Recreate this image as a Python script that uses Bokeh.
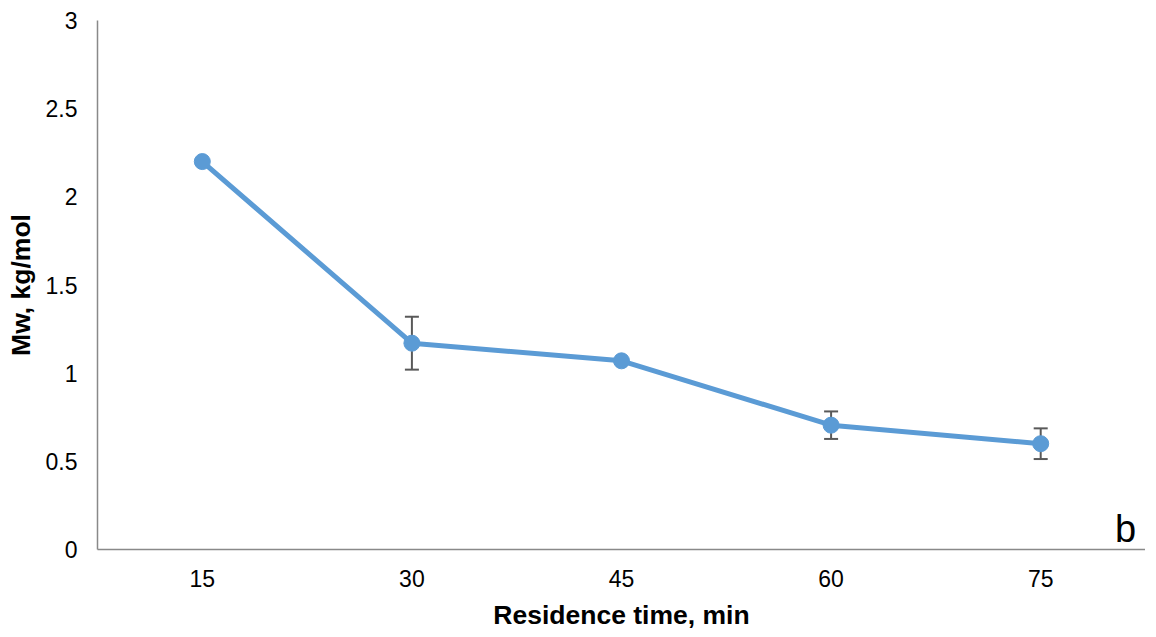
from bokeh.plotting import figure
from bokeh.models import (ColumnDataSource, FactorRange, Range1d, FixedTicker,
                          CustomJSTickFormatter, Whisker, TeeHead, Label)
from bokeh.embed import file_html
from bokeh.resources import INLINE

# ---- data ----
residence_time = ["15", "30", "45", "60", "75"]
mw = [2.20, 1.17, 1.07, 0.705, 0.60]
mw_err = [0.0, 0.15, 0.0, 0.078, 0.087]
y_ticks = [0, 0.5, 1, 1.5, 2, 2.5, 3]
x_title = "Residence time, min"
y_title = "Mw, kg/mol"
panel_tag = "b"

BLUE = "#5B9BD5"
AXIS = "#898989"
FONT = "Liberation Sans"

p = figure(width=1145, height=632, output_backend="svg", toolbar_location=None,
           x_range=FactorRange(factors=residence_time, range_padding=0),
           y_range=Range1d(0, 3),
           min_border_left=97, min_border_right=0, min_border_top=20, min_border_bottom=82)
p.outline_line_color = None
p.xgrid.grid_line_color = None
p.ygrid.grid_line_color = None
p.background_fill_color = "white"
p.border_fill_color = "white"

# axes
for ax in (p.xaxis[0], p.yaxis[0]):
    ax.axis_line_color = AXIS
    ax.axis_line_width = 1.5
    ax.major_tick_line_color = None
    ax.minor_tick_line_color = None
    ax.major_tick_out = 0
    ax.major_tick_in = 0
    ax.major_label_text_font = FONT
    ax.major_label_text_font_size = "23px"
    ax.major_label_text_color = "#000000"
    ax.axis_label_text_font = FONT
    ax.axis_label_text_font_size = "26.5px"
    ax.axis_label_text_font_style = "bold"
    ax.axis_label_text_color = "#000000"

p.xaxis.axis_label = x_title
p.yaxis.axis_label = y_title
p.xaxis.major_label_standoff = 20
p.xaxis.axis_label_standoff = 10
p.yaxis.major_label_standoff = 20
p.yaxis.axis_label_standoff = 7
p.yaxis.ticker = FixedTicker(ticks=y_ticks)
p.yaxis.formatter = CustomJSTickFormatter(code="return String(Math.round(tick*10)/10);")

# error bars (only where an error is given)
idx = [i for i, e in enumerate(mw_err) if e > 0]
err_src = ColumnDataSource(dict(
    x=[residence_time[i] for i in idx],
    upper=[mw[i] + mw_err[i] for i in idx],
    lower=[mw[i] - mw_err[i] for i in idx],
))
w = Whisker(base="x", upper="upper", lower="lower", source=err_src,
            line_color="#595959", line_width=2, level="underlay",
            upper_head=TeeHead(size=14, line_color="#595959", line_width=2),
            lower_head=TeeHead(size=14, line_color="#595959", line_width=2))
p.add_layout(w)

src = ColumnDataSource(dict(x=residence_time, y=mw))
p.line("x", "y", source=src, line_color=BLUE, line_width=5)
p.scatter("x", "y", source=src, size=16, fill_color=BLUE, line_color=BLUE)

p.add_layout(Label(x=4.905, y=0.0, text=panel_tag, text_font=FONT,
                   text_font_size="38px", text_align="center",
                   text_baseline="bottom", text_color="#000000"))

open("out.html", "w").write(file_html(p, INLINE))
